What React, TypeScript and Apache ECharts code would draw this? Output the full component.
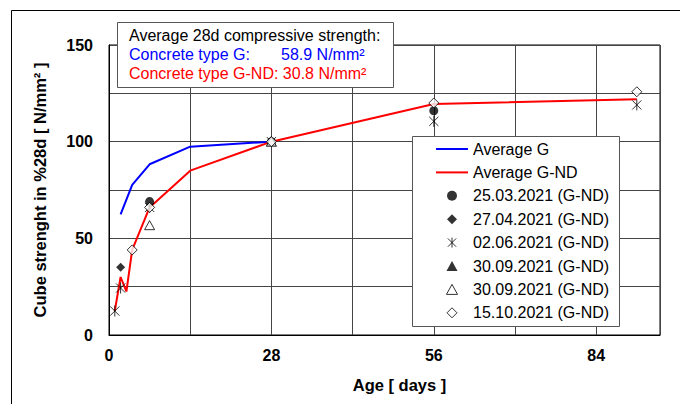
import React, { useEffect, useRef } from "react";
import * as echarts from "echarts";

const FONT = "'Liberation Sans', Arial, sans-serif";

// Average curves: [day, % of 28d strength]
const avgG: [number, number][] = [[2, 62.4], [4, 77.6], [7, 88.3], [14, 97.4], [28, 100]];
const avgGND: [number, number][] = [[1, 12.5], [2, 30], [3, 22.5], [4, 44], [7, 66], [14, 85], [28, 100], [56, 119.5], [91, 122]];

// Individual test series
const s250321: [number, number][] = [[7, 69], [28, 100], [56, 116]];
const s270421: [number, number][] = [[2, 35], [28, 100]];
const s020621: [number, number][] = [[1, 12.4], [2, 24.3], [7, 66], [28, 100], [56, 110.5], [91, 119]];
const s300921a: [number, number][] = [[28, 100]];
const s300921b: [number, number][] = [[7, 56.8], [28, 100]];
const s151021: [number, number][] = [[4, 44], [7, 66], [28, 100], [56, 120], [91, 125.8]];

const xTickLabels = [0, 28, 56, 84];
const yTickLabels = [0, 50, 100, 150];

const CIRCLE = "path://M0,5 A5,5 0 1 1 10,5 A5,5 0 1 1 0,5 Z";
const DIAMOND = "path://M5,0 L10,5 L5,10 L0,5 Z";
const TRIANGLE = "path://M5,0 L10,9 L0,9 Z";
const STAR = "path://M0,1 L10,11 M10,1 L0,11 M5,0 L5,12";
const LINEICON = "path://M0,0 L32,0 L32,2 L0,2 Z";

export default function App() {
  const ref = useRef<HTMLDivElement>(null);
  useEffect(() => {
    if (!ref.current) return;
    const chart = echarts.init(ref.current, undefined, { renderer: "svg" });
    const filled = { color: "#000" };
    const empty = { color: "#fff", borderColor: "#000", borderWidth: 1 };
    const scatter = (name: string, data: [number, number][], symbol: string, size: number, itemStyle: any) => ({
      name,
      type: "scatter",
      data,
      symbol,
      symbolSize: size,
      symbolKeepAspect: true,
      itemStyle,
      z: 4,
    });
    chart.setOption({
      animation: false,
      backgroundColor: "#fff",
      textStyle: { fontFamily: FONT },
      grid: {
        left: 109,
        top: 45,
        right: 20,
        bottom: 69,
        show: true,
        borderColor: "#000",
        borderWidth: 1,
        backgroundColor: "transparent",
      },
      xAxis: {
        type: "value",
        min: 0,
        max: 95,
        interval: 14,
        name: "Age [ days ]",
        nameLocation: "middle",
        nameGap: 41,
        nameTextStyle: { fontSize: 16.5, fontWeight: "bold", color: "#000", fontFamily: FONT, padding: [0, 0, 0, 30] },
        axisLine: { show: true, lineStyle: { color: "#000", width: 1 } },
        axisTick: { show: false },
        axisLabel: {
          fontSize: 16,
          fontWeight: "bold",
          color: "#000",
          fontFamily: FONT,
          margin: 12,
          formatter: (v: number) => (xTickLabels.includes(v) ? String(v) : ""),
        },
        splitLine: { show: true, lineStyle: { color: "#444", width: 1 } },
      },
      yAxis: {
        type: "value",
        min: 0,
        max: 150,
        interval: 25,
        name: "Cube strenght in %28d [ N/mm² ]",
        nameLocation: "middle",
        nameGap: 61,
        nameTextStyle: { fontSize: 16.5, fontWeight: "bold", color: "#000", fontFamily: FONT },
        axisLine: { show: true, lineStyle: { color: "#000", width: 1 } },
        axisTick: { show: false },
        axisLabel: {
          fontSize: 16,
          fontWeight: "bold",
          color: "#000",
          fontFamily: FONT,
          margin: 16,
          formatter: (v: number) => (yTickLabels.includes(v) ? String(v) : ""),
        },
        splitLine: { show: true, lineStyle: { color: "#444", width: 1 } },
      },
      legend: {
        orient: "vertical",
        left: 436,
        top: 141,
        padding: 0,
        itemWidth: 32,
        itemHeight: 10,
        itemGap: 7.4,
        symbolKeepAspect: true,
        z: 6,
        itemStyle: { borderWidth: 1 },
        textStyle: { fontSize: 16, lineHeight: 16, color: "#000", fontFamily: FONT },
        data: [
          { name: "Average G", icon: LINEICON, itemStyle: { borderWidth: 0 } },
          { name: "Average G-ND", icon: LINEICON, itemStyle: { borderWidth: 0 } },
          "25.03.2021 (G-ND)",
          "27.04.2021 (G-ND)",
          "02.06.2021 (G-ND)",
          "30.09.2021 (G-ND) ",
          "30.09.2021 (G-ND)",
          "15.10.2021 (G-ND)",
        ],
      },
      graphic: [
        {
          type: "rect",
          z: 0,
          silent: true,
          shape: { x: 11.5, y: 10.5, width: 720, height: 440 },
          style: { fill: "none", stroke: "#000", lineWidth: 1 },
        },
        {
          type: "rect",
          z: 5,
          silent: true,
          shape: { x: 412.5, y: 136.5, width: 207, height: 190 },
          style: { fill: "#fff", stroke: "#555", lineWidth: 1 },
        },
        {
          type: "rect",
          z: 5,
          silent: true,
          shape: { x: 117.5, y: 22.5, width: 276, height: 65 },
          style: { fill: "#fff", stroke: "#555", lineWidth: 1 },
        },
        {
          type: "text",
          z: 6,
          x: 129,
          y: 35,
          style: { text: "Average 28d compressive strength:", fill: "#000", font: `16px ${FONT}`, verticalAlign: "middle" },
        },
        {
          type: "text",
          z: 6,
          x: 129,
          y: 54,
          style: { text: "Concrete type G:", fill: "#0000ff", font: `16px ${FONT}`, verticalAlign: "middle" },
        },
        {
          type: "text",
          z: 6,
          x: 281,
          y: 54,
          style: { text: "58.9 N/mm²", fill: "#0000ff", font: `16px ${FONT}`, verticalAlign: "middle" },
        },
        {
          type: "text",
          z: 6,
          x: 129,
          y: 73,
          style: { text: "Concrete type G-ND: 30.8 N/mm²", fill: "#ff0000", font: `16px ${FONT}`, verticalAlign: "middle" },
        },
      ],
      series: [
        {
          name: "Average G",
          type: "line",
          data: avgG,
          symbol: "none",
          color: "#0000ff",
          lineStyle: { color: "#0000ff", width: 2 },
          z: 3,
        },
        {
          name: "Average G-ND",
          type: "line",
          data: avgGND,
          symbol: "none",
          color: "#ff0000",
          lineStyle: { color: "#ff0000", width: 2 },
          z: 3,
        },
        scatter("25.03.2021 (G-ND)", s250321, CIRCLE, 9, filled),
        scatter("27.04.2021 (G-ND)", s270421, DIAMOND, 9, filled),
        scatter("02.06.2021 (G-ND)", s020621, STAR, 11, { color: "#000", borderColor: "#000", borderWidth: 1 }),
        scatter("30.09.2021 (G-ND) ", s300921a, TRIANGLE, 10, filled),
        scatter("30.09.2021 (G-ND)", s300921b, TRIANGLE, 10, empty),
        scatter("15.10.2021 (G-ND)", s151021, DIAMOND, 10, empty),
      ],
    });
    return () => chart.dispose();
  }, []);
  return <div ref={ref} style={{ width: 680, height: 404, position: "absolute", left: 0, top: 0 }} />;
}
